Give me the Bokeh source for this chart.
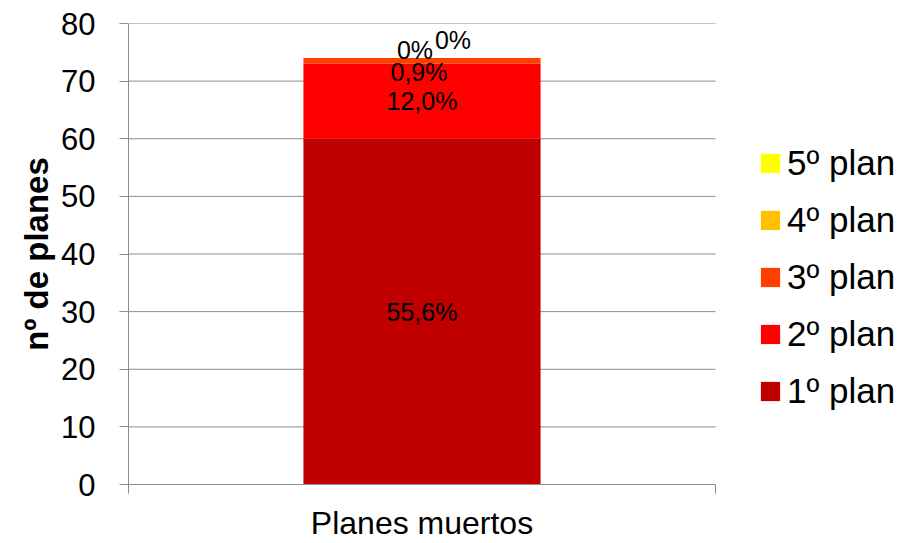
from bokeh.plotting import figure
from bokeh.models import Range1d, FixedTicker, Legend, LegendItem, ColumnDataSource
from bokeh.embed import file_html
from bokeh.resources import INLINE
from bokeh.core.properties import value

# ---- data ----
categories = ["Planes muertos"]
series = ["1º plan", "2º plan", "3º plan", "4º plan", "5º plan"]
counts = [60, 13, 1, 0, 0]
pct_labels = ["55,6%", "12,0%", "0,9%", "0%", "0%"]
y_ticks = [0, 10, 20, 30, 40, 50, 60, 70, 80]

# ---- style ----
colors = ["#C00000", "#FF0000", "#FF3F00", "#FFC000", "#FFFF00"]
label_dx = [0, 0, -3, -7, 31]
label_dy = [0, 0, 11, -8, -18]
FONT = "Liberation Sans"
GRAY = "#8c8c8c"
PLOT_W = 587          # width of the category area in px
FRAME_W = 778         # frame also hosts the legend on its right
BAR_W = 0.404

n = len(categories)
positions = [i + 0.5 for i in range(n)]

src_data = {"x": positions}
for s, v in zip(series, counts):
    src_data[s] = [v]
source = ColumnDataSource(src_data)

p = figure(frame_width=FRAME_W, frame_height=461, output_backend="svg",
           toolbar_location=None,
           x_range=Range1d(0, n * FRAME_W / PLOT_W), y_range=Range1d(0, 80),
           min_border_left=128, min_border_right=0, min_border_top=23,
           min_border_bottom=58)
p.outline_line_color = None
p.background_fill_color = "white"
p.border_fill_color = "white"

# horizontal grid lines limited to the category area
p.xgrid.grid_line_color = None
p.ygrid.grid_line_color = None
p.segment(x0=[0] * len(y_ticks), x1=[n] * len(y_ticks), y0=y_ticks, y1=y_ticks,
          line_color=GRAY, line_width=1, level="underlay")

renderers = p.vbar_stack(series, x="x", width=BAR_W, fill_color=colors,
                         line_color=colors, line_width=0, source=source)

# data labels
bottoms = []
acc = 0
for v in counts:
    bottoms.append(acc)
    acc += v
lab_src = ColumnDataSource(dict(
    x=[positions[0]] * len(series),
    y=[b + v / 2 for b, v in zip(bottoms, counts)],
    text=pct_labels, dx=label_dx, dy=label_dy))
p.text(x="x", y="y", text="text", x_offset="dx", y_offset="dy", source=lab_src,
       text_font=value(FONT), text_font_size="25px", text_color="black",
       text_align="center", text_baseline="middle")

# axes
ya = p.yaxis[0]
ya.ticker = FixedTicker(ticks=y_ticks)
ya.axis_line_color = GRAY
ya.major_tick_line_color = GRAY
ya.major_tick_in = 0
ya.major_tick_out = 9
ya.minor_tick_line_color = None
ya.major_label_text_font = FONT
ya.major_label_text_font_size = "31px"
ya.major_label_text_color = "black"
ya.major_label_standoff = 24
ya.axis_label = "nº de planes"
ya.axis_label_text_font = FONT
ya.axis_label_text_font_style = "bold"
ya.axis_label_text_font_size = "33px"
ya.axis_label_text_color = "black"
ya.axis_label_standoff = 3

xa = p.xaxis[0]
xa.bounds = (0, n)
xa.ticker = FixedTicker(ticks=positions, minor_ticks=[0] + [i + 1 for i in range(n)])
xa.major_label_overrides = {pos: c for pos, c in zip(positions, categories)}
xa.axis_line_color = GRAY
xa.major_tick_line_color = None
xa.major_tick_in = 0
xa.major_tick_out = 0
xa.minor_tick_line_color = GRAY
xa.minor_tick_in = 0
xa.minor_tick_out = 9
xa.major_label_text_font = FONT
xa.major_label_text_font_size = "32px"
xa.major_label_text_line_height = 0.9
xa.major_label_text_color = "black"
xa.major_label_standoff = 11

# legend, top item is the last series
items = [LegendItem(label=s, renderers=[r]) for s, r in zip(series, renderers)][::-1]
legend = Legend(items=items, location=(630, 73), orientation="vertical",
                label_text_font=FONT, label_text_font_size="35px",
                label_text_color="black", glyph_width=24, glyph_height=24,
                label_height=40, spacing=17, label_standoff=5,
                padding=0, margin=0, border_line_color=None,
                background_fill_alpha=0)
p.add_layout(legend, "center")

open("out.html", "w").write(file_html(p, INLINE))
